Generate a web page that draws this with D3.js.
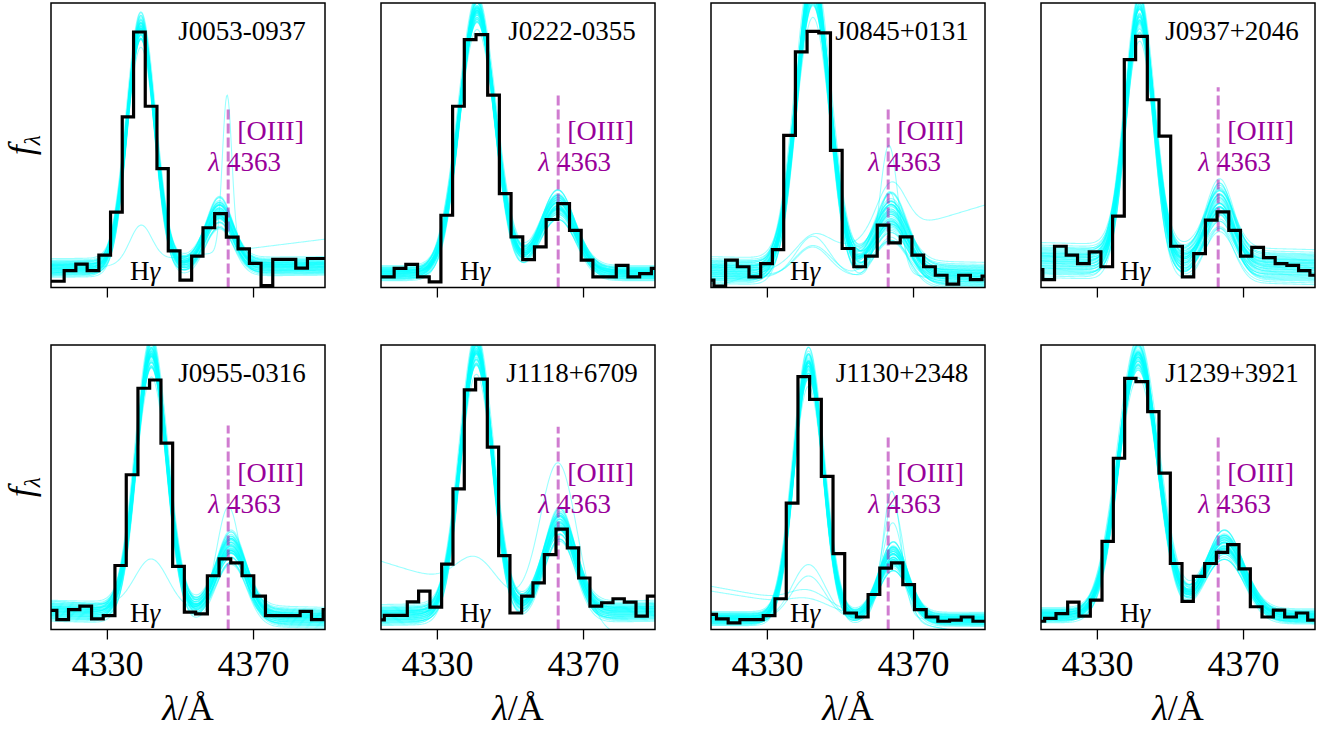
<!DOCTYPE html>
<meta charset="utf-8">
<style>
body { margin: 0; background: #fff; }
text { font-family: "Liberation Serif", "DejaVu Serif", serif; }
.frame { fill: none; stroke: #000; stroke-width: 1.5px; }
.fit { fill: none; stroke: cyan; stroke-opacity: 0.4; stroke-width: 1.1px; }
.spec { fill: none; stroke: #000; stroke-width: 3.2px; stroke-linejoin: miter; }
.marker { stroke: #aa10aa; stroke-opacity: 0.55; stroke-width: 3px; stroke-dasharray: 10,4; }
.axis path { display: none; }
.axis line { stroke: #000; stroke-width: 1.3px; }
.axis text { font-size: 36px; fill: #000; }
</style>
<svg width="1323" height="731"></svg>
<script src="https://cdn.jsdelivr.net/npm/d3@7"></script>
<script>

var names = ["J0053-0937", "J0222-0355", "J0845+0131", "J0937+2046",
             "J0955-0316", "J1118+6709", "J1130+2348", "J1239+3921"];

// observed spectra: bin edges (Angstrom) and flux per bin (arbitrary units, 0-100 = axis height)
var binEdges = [
  [4312, 4318.3, 4321.5, 4324.6, 4327.8, 4331.0, 4334.2, 4337.3, 4340.5, 4343.7, 4346.8, 4350.0, 4353.2, 4356.3, 4359.5, 4362.7, 4365.9, 4369.0, 4372.2, 4375.4, 4378.5, 4381.7, 4384.9, 4388.0, 4391.2],
  [4312, 4318.3, 4321.5, 4324.7, 4327.9, 4331.1, 4334.3, 4337.5, 4340.7, 4343.9, 4347.1, 4350.3, 4353.5, 4356.7, 4359.9, 4363.1, 4366.3, 4369.5, 4372.7, 4375.9, 4379.1, 4382.3, 4385.5, 4388.7, 4391.9],
  [4312, 4315.5, 4318.7, 4321.9, 4325.1, 4328.3, 4331.5, 4334.6, 4337.8, 4341.0, 4344.2, 4347.4, 4350.6, 4353.8, 4357.0, 4360.2, 4363.4, 4366.5, 4369.7, 4372.9, 4376.1, 4379.3, 4382.5, 4385.7, 4388.9, 4392.1],
  [4312, 4315.2, 4318.4, 4321.6, 4324.7, 4327.9, 4331.1, 4334.3, 4337.5, 4340.6, 4343.8, 4347.0, 4350.2, 4353.4, 4356.5, 4359.7, 4362.9, 4366.1, 4369.3, 4372.4, 4375.6, 4378.8, 4382.0, 4385.2, 4388.3, 4391.5],
  [4312, 4316.3, 4319.5, 4322.6, 4325.8, 4329.0, 4332.2, 4335.3, 4338.5, 4341.7, 4344.8, 4348.0, 4351.2, 4354.3, 4357.5, 4360.7, 4363.9, 4367.0, 4370.2, 4373.4, 4376.5, 4379.7, 4382.9, 4386.0, 4389.2, 4392.4],
  [4312, 4315.6, 4318.7, 4321.9, 4325.0, 4328.1, 4331.3, 4334.4, 4337.5, 4340.6, 4343.8, 4346.9, 4350.0, 4353.2, 4356.3, 4359.4, 4362.6, 4365.7, 4368.8, 4371.9, 4375.1, 4378.2, 4381.3, 4384.5, 4387.6, 4390.7],
  [4312, 4316.2, 4319.4, 4322.6, 4325.8, 4329.0, 4332.2, 4335.3, 4338.5, 4341.7, 4344.9, 4348.1, 4351.3, 4354.5, 4357.7, 4360.9, 4364.1, 4367.2, 4370.4, 4373.6, 4376.8, 4380.0, 4383.2, 4386.4, 4392.0],
  [4312, 4315.7, 4318.8, 4322.0, 4325.1, 4328.2, 4331.4, 4334.5, 4337.6, 4340.7, 4343.9, 4347.0, 4350.1, 4353.3, 4356.4, 4359.5, 4362.7, 4365.8, 4368.9, 4372.0, 4375.2, 4378.3, 4381.4, 4384.6, 4387.7, 4390.8]
];

var fluxes = [
  [2.2, 5.9, 8.2, 5.9, 11.4, 26.5, 60, 89.8, 63.7, 41.8, 12.9, 2.6, 11, 21, 26, 17.7, 13.6, 8.5, 0.7, 9.9, 9.9, 6.8, 10.2, 10.2],
  [3.7, 6.7, 8.1, 3.7, 2.0, 25.4, 63.7, 87.1, 88.9, 67.6, 33.0, 17.8, 9.8, 14.3, 23.9, 29.5, 20.1, 9.6, 3.7, 3.7, 7.8, 3.7, 4.9, 6.7],
  [2.6, 0.5, 9.6, 7.3, 3.7, 8.4, 13.3, 53.5, 82.8, 90.0, 89.5, 48.2, 13.7, 7.3, 11.0, 21.9, 15.7, 17.8, 11.4, 7.3, 4.3, 1.2, 4.3, 2.8, 4.0],
  [6.3, 2.8, 14.5, 11.4, 8.4, 12.5, 7.3, 25.1, 80.1, 88.3, 66.0, 53.2, 14.5, 3.7, 11.9, 23.7, 26.6, 20.1, 11.0, 14.1, 10.5, 8.4, 7.8, 5.9, 4.3],
  [6.7, 3.5, 7.0, 8.2, 3.7, 4.9, 22.5, 54.4, 84.8, 87.7, 65.5, 22.2, 6.1, 5.5, 18.9, 24.8, 23.4, 18.9, 11.7, 4.9, 4.9, 4.9, 6.4, 3.5, 7.0],
  [3.4, 5.0, 5.0, 9.7, 13.5, 7.9, 23.0, 49.4, 84.2, 88.0, 64.1, 26.0, 5.8, 11.7, 16.4, 26.3, 35.3, 28.7, 18.1, 8.2, 9.4, 10.8, 9.6, 4.7, 11.7],
  [5.3, 3.7, 2.3, 3.5, 3.5, 4.9, 10.8, 44.4, 88.9, 80.9, 53.8, 26.7, 5.8, 4.4, 12.3, 21.6, 23.4, 15.8, 7.0, 4.4, 2.9, 3.3, 4.4, 2.9],
  [2.9, 3.9, 5.6, 9.6, 4.7, 10.3, 31, 60.2, 88.3, 87.1, 76.6, 55.0, 23.2, 9.9, 18.7, 23.2, 27.1, 29.8, 21.3, 8.0, 4.4, 6.8, 4.4, 5.8, 3.3]
];

// posterior fits: linear continuum + gaussian H-gamma + gaussian [OIII]4363
var contLeft    = [6.8, 5, 6, 9.5, 6.5, 5, 3.8, 5];
var contRight   = [7.5, 5, 4, 7, 4, 6.5, 3.5, 4.5];
var hgAmp       = [84, 92, 100, 87, 91, 92, 89, 91];
var hgCenter    = [4339.3, 4341.0, 4342.6, 4341.7, 4342.2, 4340.8, 4341.4, 4341.3];
var lineSigma   = [3.8, 4.9, 4.6, 3.9, 4.2, 4.4, 4.05, 5.4];
var oiiiAmp     = [19, 24, 20, 21, 24, 31, 22, 25];
var oiiiCenter  = [4360.8, 4363.1, 4364.0, 4363.6, 4364.0, 4363.6, 4364.6, 4364.9];
var contScatter = [1.6, 1.3, 2.3, 3.0, 1.8, 1.8, 1.2, 1.3];
var hgScatter   = [2.5, 2.5, 4, 3, 3, 3, 3, 3];
var oiiiScatter = [2.5, 2.5, 4, 3.5, 2.5, 2.5, 2.5, 2.5];

// draws (in units of the scatter above): continuum, H-gamma, [OIII], width
var sampleOffsets = [
  [ 0.2, -0.4,  0.6,  0.1], [-0.9,  0.7, -0.2, -0.5], [ 1.3,  0.1,  0.9,  0.3],
  [-0.3, -1.2,  0.4,  0.8], [ 0.6,  1.5, -0.7, -0.2], [-1.6, -0.3,  1.2,  0.4],
  [ 0.9,  0.2, -1.4, -0.9], [-0.1,  0.9,  0.3,  1.1], [ 1.8, -0.8, -0.5, -0.1],
  [-0.6,  0.5,  1.7,  0.6], [ 0.4, -1.7, -1.0,  0.2], [-1.2,  1.1,  0.1, -1.3],
  [ 0.1,  0.0, -0.2,  0.0], [ 1.1,  0.6,  0.5, -0.7], [-0.4, -0.6, -1.8,  0.9],
  [ 0.7,  1.9,  1.0,  1.5], [-2.0, -0.1, -0.6, -0.3], [ 0.3, -1.0,  2.0, -1.1],
  [-0.8,  0.3, -0.9,  0.7], [ 1.5, -0.2,  0.2,  0.5], [-0.2,  1.3, -1.2, -0.4],
  [ 0.5, -0.5,  0.7, -1.6], [-1.4,  0.8,  1.4,  1.0], [ 2.1, -1.4, -0.3,  0.3],
  [-0.5,  0.1, -0.1, -0.8], [ 0.0, -0.9,  1.1,  1.3], [ 1.0,  1.0, -1.6, -0.2],
  [-1.0, -2.0,  0.0,  0.6], [ 0.8,  0.4, -0.4, -1.0], [-0.7,  1.6,  0.8,  0.1],
  [ 0.4,  0.3, -0.8,  1.7], [-1.3, -0.7,  0.5, -0.6], [ 1.6,  0.8,  1.3, -1.2],
  [-0.1, -1.5, -0.4,  0.4], [ 0.9, -0.1,  0.0, -1.8], [-1.8,  1.2, -1.1,  1.2],
  [ 0.2,  2.1,  0.3, -0.9], [-0.6, -0.2,  1.5,  0.2], [ 1.2, -1.1, -1.3,  0.8],
  [-0.3,  0.6,  0.9, -0.3], [ 0.6, -0.4, -0.7,  1.4], [-1.1,  0.0,  0.4, -1.4],
  [ 0.0,  1.4, -0.1,  0.6], [ 1.4, -0.6,  0.6, -0.5], [-0.9,  0.4, -1.5,  0.0],
  [ 0.5, -1.3,  1.8, -0.7], [-1.5,  0.9, -0.3,  1.6], [ 0.8,  0.2,  1.0, -0.1]
];

// stray draws: panel, cont left, cont right, Hg amp, Hg sigma, [OIII] amp, [OIII] sigma, [OIII] centre
var oddSamples = [
  [0, 5, 17, 13, 3.0, 55, 1.3, 4362.9],
  [2, 4, 4, 14, 4.5, 46, 2.5, 4363.4],
  [2, 3, 5, 11, 5.0, 25, 4.0, 4364.0],
  [2, 0, 29, 8, 4.5, 18, 4.0, 4364.0],
  [2, 5, 3, 10, 4.5, 30, 3.0, 4363.5],
  [4, 10, 4, 17, 4.5, 37, 3.2, 4363.3],
  [5, 24, -6, 12, 5.5, 54, 5.0, 4363.3],
  [6, 4, 3.5, 19, 4.5, 45, 2.5, 4364.2],
  [6, 4, 3.5, 15, 4.5, 40, 3.0, 4364.5],
  [6, 15.2, -2.4, 5, 5.0, 34, 3.0, 4364.5],
  [6, 13.5, -2, 3, 5.0, 20, 3.5, 4364.5]
];

var markerWave = 4363.2;
var hgWave = 4340.47;
var markerTop = [64, 67.6, 63.4, 70.4, 71.7, 71.3, 67.6, 67.8];
var xTicks = [4330, 4370];
var xDomain = [4314.7, 4389.7];

var svg = d3.select("svg"),
    W = 274, H = 284.5,
    lefts = [51, 381, 711, 1041],
    tops = [3, 345];

var x = d3.scaleLinear().domain(xDomain).range([0, W]);
var y = d3.scaleLinear().domain([0, 100]).range([H, 0]);
var grid = d3.range(4312, 4392.01, 0.25);

function model(p) {
  return grid.map(function(w) {
    var c = p.cL + (p.cR - p.cL) * (w - xDomain[0]) / (xDomain[1] - xDomain[0]);
    var h = p.hA * Math.exp(-Math.pow(w - p.hC, 2) / (2 * p.hS * p.hS));
    var o = p.oA * Math.exp(-Math.pow(w - p.oC, 2) / (2 * p.oS * p.oS));
    return [w, c + h + o];
  });
}

var line = d3.line().x(function(d) { return x(d[0]); }).y(function(d) { return y(d[1]); });
var stepLine = d3.line().curve(d3.curveStepAfter)
    .x(function(d) { return x(d[0]); }).y(function(d) { return y(d[1]); });

names.forEach(function(name, i) {
  var row = Math.floor(i / 4);
  var g = svg.append("g")
      .attr("transform", "translate(" + lefts[i % 4] + "," + tops[row] + ")");

  g.append("clipPath").attr("id", "clip" + i)
    .append("rect").attr("width", W).attr("height", H);
  var plot = g.append("g").attr("clip-path", "url(#clip" + i + ")");

  var fits = sampleOffsets.map(function(z) {
    return {
      cL: contLeft[i] + z[0] * contScatter[i],
      cR: contRight[i] + z[0] * contScatter[i],
      hA: hgAmp[i] + z[1] * hgScatter[i], hC: hgCenter[i],
      hS: lineSigma[i] * (1 + 0.04 * z[3]),
      oA: oiiiAmp[i] + z[2] * oiiiScatter[i], oC: oiiiCenter[i],
      oS: lineSigma[i] * (1 + 0.04 * z[3])
    };
  });
  oddSamples.filter(function(s) { return s[0] === i; }).forEach(function(s) {
    fits.push({ cL: s[1], cR: s[2], hA: s[3], hC: hgCenter[i], hS: s[4],
                oA: s[5], oS: s[6], oC: s[7] });
  });

  plot.selectAll(".fit")
      .data(fits)
    .enter().append("path")
      .attr("class", "fit")
      .attr("d", function(p) { return line(model(p)); });

  plot.append("line")
      .attr("class", "marker")
      .attr("x1", x(markerWave)).attr("x2", x(markerWave))
      .attr("y1", H).attr("y2", y(markerTop[i]));

  var edges = binEdges[i], flux = fluxes[i];
  var pts = flux.map(function(f, j) { return [edges[j], f]; });
  pts.push([edges[flux.length], flux[flux.length - 1]]);
  plot.append("path")
      .attr("class", "spec")
      .attr("d", stepLine(pts));

  g.append("rect").attr("class", "frame").attr("width", W).attr("height", H);

  var axis = d3.axisBottom(x).tickValues(xTicks).tickSize(10).tickPadding(11)
      .tickFormat(row === 1 ? d3.format("d") : "");
  g.append("g").attr("class", "axis")
      .attr("transform", "translate(0," + H + ")")
      .call(axis);

  g.append("text")
      .attr("x", 191).attr("y", 37)
      .attr("text-anchor", "middle")
      .style("font-size", "27px")
      .text(name);

  g.append("text")
      .attr("x", x(markerWave) + 9).attr("y", 137)
      .style("font-size", "28px").style("fill", "#990099")
      .text("[OIII]");

  var lam = g.append("text")
      .attr("x", x(markerWave) - 20).attr("y", 168)
      .style("font-size", "27px").style("fill", "#990099");
  lam.append("tspan").style("font-style", "italic").text("λ");
  lam.append("tspan").attr("dx", 7).text("4363");

  var hg = g.append("text")
      .attr("x", x(hgWave)).attr("y", H - 8)
      .attr("text-anchor", "middle")
      .style("font-size", "27px");
  hg.append("tspan").text("H");
  hg.append("tspan").style("font-style", "italic").text("γ");

  if (i % 4 === 0) {
    var yl = g.append("text")
        .attr("transform", "translate(-18," + (H / 2) + ") rotate(-90)")
        .attr("text-anchor", "middle")
        .style("font-size", "36px");
    yl.append("tspan").style("font-style", "italic").text("f");
    yl.append("tspan").attr("dy", 7).style("font-size", "23px").style("font-style", "italic").text("λ");
  }

  if (row === 1) {
    var xl = g.append("text")
        .attr("x", W / 2).attr("y", H + 90)
        .attr("text-anchor", "middle")
        .style("font-size", "36px");
    xl.append("tspan").style("font-style", "italic").text("λ");
    xl.append("tspan").text("/Å");
  }
});

</script>
